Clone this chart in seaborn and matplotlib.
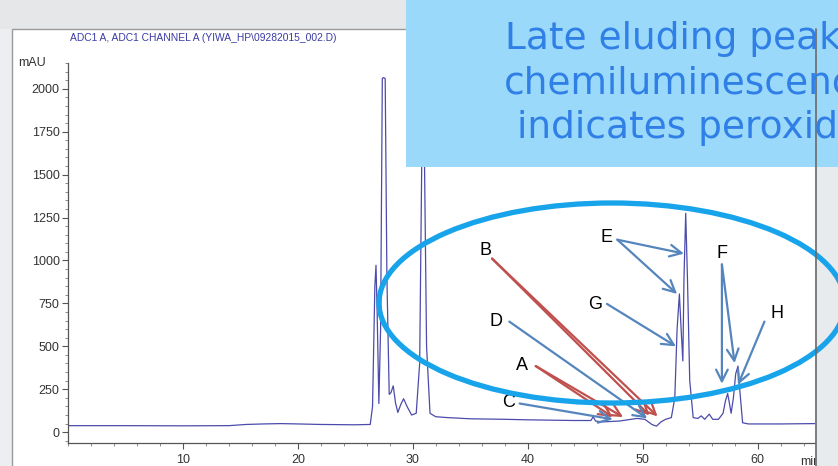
import seaborn as sns
import matplotlib.pyplot as plt
from matplotlib.patches import Rectangle, Ellipse
from matplotlib.ticker import MultipleLocator

# --- data (retention time in min, signal in mAU) ---
time_min = [0, 5, 10, 14, 15.5, 17, 18.5, 20, 22, 25, 26.3, 26.5, 26.7, 26.8, 26.9,
            27.05, 27.2, 27.35, 27.45, 27.6, 27.75, 27.95, 28.1, 28.3, 28.5, 28.7,
            28.95, 29.2, 29.5, 29.9, 30.3, 30.6, 30.8, 30.9, 31.0, 31.2, 31.5, 32,
            33, 35, 38, 40, 42, 44, 45.5, 45.7, 45.9, 46.5, 48, 49.5, 50.2, 50.8,
            51.2, 51.6, 52.0, 52.5, 52.8, 53.0, 53.2, 53.35, 53.5, 53.6, 53.75,
            53.9, 54.1, 54.4, 54.8, 55.1, 55.4, 55.8, 56.1, 56.6, 57.0, 57.2, 57.4,
            57.55, 57.7, 57.9, 58.1, 58.3, 58.45, 58.7, 59.2, 62, 65]
signal_mau = [38, 38, 37, 38, 45, 48, 50, 48, 45, 43, 45, 150, 850, 972, 700,
              167, 600, 2060, 2065, 2060, 900, 220, 230, 270, 170, 115,
              160, 195, 150, 100, 110, 400, 1700, 1850, 1700, 500, 110, 90,
              85, 78, 75, 72, 70, 68, 68, 90, 65, 60, 65, 80, 75, 45,
              35, 60, 75, 85, 200, 600, 805, 600, 415, 900, 1275,
              900, 300, 85, 80, 95, 75, 105, 75, 75, 110, 180, 225,
              170, 110, 200, 340, 385, 250, 55, 48, 48, 50]

x_ticks = [10, 20, 30, 40, 50, 60]
y_ticks = [0, 250, 500, 750, 1000, 1250, 1500, 1750, 2000]

# peak labels: letter, label position, arrow tail, arrow heads
RED, BLUE = "#c0504d", "#5585bd"
peak_notes = [
    ("A", (39.5, 391), (40.7, 385), [(47.4, 88), (48.3, 88)], RED),
    ("B", (36.35, 1057), (36.9, 1011), [(50.6, 98), (51.3, 92)], RED),
    ("C", (38.3, 172), (39.3, 167), [(47.4, 75)], BLUE),
    ("D", (37.2, 644), (38.4, 644), [(50.4, 80)], BLUE),
    ("E", (46.9, 1132), (47.8, 1121), [(53.6, 1040), (53.0, 805)], BLUE),
    ("F", (56.9, 1040), (56.9, 977), [(56.9, 282), (58.0, 402)], BLUE),
    ("G", (45.9, 741), (46.9, 747), [(52.9, 500)], BLUE),
    ("H", (61.7, 690), (60.6, 644), [(58.3, 276)], BLUE),
]

callout = ["Late eluding peaks", "chemiluminescence", "indicates peroxide"]

# --- figure ---
sns.set_theme(style="white")
plt.rcParams["font.family"] = ["Liberation Sans", "DejaVu Sans"]

W, H = 838, 466
fig = plt.figure(figsize=(W / 100, H / 100), dpi=100, facecolor="#eceef1")

# backdrop: slide grey + white chart panel
bg = fig.add_axes([0, 0, 1, 1], zorder=0)
bg.set_xlim(0, W)
bg.set_ylim(H, 0)
bg.axis("off")
bg.add_patch(Rectangle((0, 0), W, 29, color="#e6e7e8", lw=0))
bg.add_patch(Rectangle((12, 29), 804, 440, facecolor="white", edgecolor="#9a9a9a", lw=1))

# chromatogram
ax = fig.add_axes([68 / W, 23 / H, 747 / W, 380 / H], zorder=1)
ax.set_facecolor("none")
sns.lineplot(x=time_min, y=signal_mau, ax=ax, color="#4b4bab", lw=0.9, sort=False)
ax.set_xlim(0, 65)
ax.set_ylim(-63, 2150)
ax.set_xticks(x_ticks)
ax.set_yticks(y_ticks)
ax.xaxis.set_minor_locator(MultipleLocator(2))
ax.yaxis.set_minor_locator(MultipleLocator(50))
ax.tick_params(which="major", length=4, width=0.8, color="#555555", labelsize=9,
               labelcolor="#333333", pad=2, bottom=True, left=True)
ax.tick_params(axis="x", which="major", pad=4)
ax.tick_params(which="minor", length=2.5, width=0.6, color="#777777", bottom=True, left=True)
for side in ("top", "right"):
    ax.spines[side].set_visible(False)
for side in ("left", "bottom"):
    ax.spines[side].set_color("#555555")
    ax.spines[side].set_linewidth(0.9)
ax.text(-0.03, 1.0, "mAU", transform=ax.transAxes, ha="right", va="center",
        fontsize=9, color="#333333")
ax.text(0.98, -0.05, "min", transform=ax.transAxes, ha="left", va="center",
        fontsize=9, color="#333333")

fig.text(70 / W, 1 - 38 / H, "ADC1 A, ADC1 CHANNEL A (YIWA_HP\\09282015_002.D)",
         ha="left", va="center", fontsize=7.4, color="#3b3ba6")

for letter, txt_xy, tail, heads, col in peak_notes:
    ax.text(*txt_xy, letter, ha="center", va="center", fontsize=13, color="black")
    for head in heads:
        ax.annotate("", xy=head, xytext=tail,
                    arrowprops=dict(arrowstyle="->,head_length=0.7,head_width=0.35",
                                    color=col, lw=1.6, shrinkA=0, shrinkB=0))

# overlay: grey slide edge, callout box, highlight ellipse
ov = fig.add_axes([0, 0, 1, 1], zorder=3)
ov.set_xlim(0, W)
ov.set_ylim(H, 0)
ov.axis("off")
ov.add_patch(Rectangle((816, 29), W - 816, H, facecolor="#e8ebee", edgecolor="none"))
ov.plot([816, 816], [29, H], color="#6a6a6a", lw=1.2)
ov.add_patch(Rectangle((406, 0), W - 406, 167, facecolor="#9ad9f9", edgecolor="none"))
for i, line in enumerate(callout):
    ov.text([505, 504, 517][i], 49 + i * 44.5, line, ha="left", va="baseline",
            fontsize=27, color="#2f7fe6", family="DejaVu Sans")
ov.add_patch(Ellipse((612, 303), 466, 200, facecolor="none", edgecolor="#18a4ea", lw=3.8))

fig.savefig("out.png", dpi=100, facecolor=fig.get_facecolor())
